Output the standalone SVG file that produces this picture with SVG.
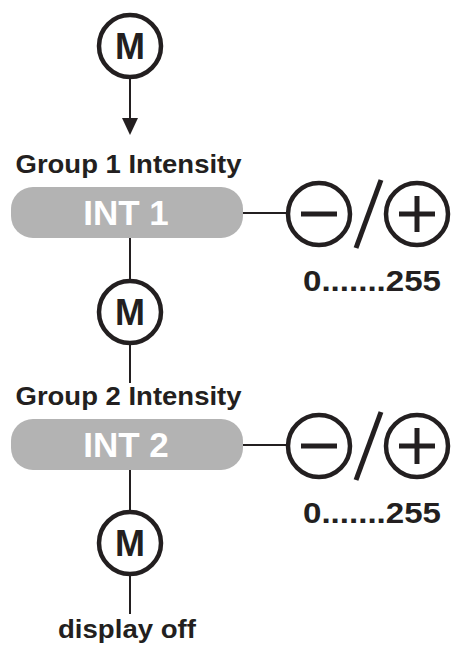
<svg xmlns="http://www.w3.org/2000/svg" width="453" height="645" viewBox="0 0 453 645">
<defs>
<style>
.c{fill:#fff;stroke:#231f20;stroke-width:4.5}
.m{font-family:"Liberation Sans",Arial,sans-serif;font-weight:bold;font-size:36px;fill:#231f20;text-anchor:middle}
.lbl{font-family:"Liberation Sans",Arial,sans-serif;font-weight:bold;font-size:26px;fill:#231f20;text-anchor:middle}
.num{font-family:"Liberation Sans",Arial,sans-serif;font-weight:bold;font-size:30px;fill:#231f20;text-anchor:middle}
.box{fill:#b3b3b3}
.bt{font-family:"Liberation Sans",Arial,sans-serif;font-weight:bold;font-size:35px;fill:#fff;text-anchor:middle}
.ln{stroke:#231f20;stroke-width:2;fill:none}
.sym{stroke:#231f20;stroke-width:5;fill:none}
</style>
</defs>
<g id="connectors">
<line class="ln" x1="130" y1="79" x2="130" y2="119"/>
<path d="M122,118 L138,118 L130,135 z" fill="#231f20"/>
<line class="ln" x1="242" y1="213" x2="287" y2="213"/>
<line class="ln" x1="130" y1="238" x2="130" y2="280"/>
<line class="ln" x1="130" y1="344" x2="130" y2="383"/>
<line class="ln" x1="242" y1="445" x2="287" y2="445"/>
<line class="ln" x1="130" y1="470" x2="130" y2="511"/>
<line class="ln" x1="130" y1="575" x2="130" y2="614"/>
</g>
<g id="m1">
<circle class="c" cx="130" cy="46" r="31"/>
<text class="m" x="130" y="59">M</text>
</g>
<g id="int1">
<text class="lbl" x="128.5" y="173" textLength="226" lengthAdjust="spacingAndGlyphs">Group 1 Intensity</text>
<rect class="box" x="11" y="187" width="232" height="51" rx="22"/>
<text class="bt" x="126" y="225">INT 1</text>
</g>
<g id="adj1">
<circle class="c" cx="319" cy="214" r="31"/>
<line class="sym" x1="301" y1="214" x2="337" y2="214"/>
<line class="sym" x1="381" y1="180" x2="356" y2="248"/>
<circle class="c" cx="417" cy="214" r="31"/>
<line class="sym" x1="399" y1="214" x2="435" y2="214"/>
<line class="sym" x1="417" y1="196" x2="417" y2="232"/>
<text class="num" x="372" y="291" textLength="138" lengthAdjust="spacingAndGlyphs">0.......255</text>
</g>
<g id="m2">
<circle class="c" cx="130" cy="312" r="31"/>
<text class="m" x="130" y="325">M</text>
</g>
<g id="int2">
<text class="lbl" x="128.5" y="405" textLength="226" lengthAdjust="spacingAndGlyphs">Group 2 Intensity</text>
<rect class="box" x="11" y="419" width="232" height="51" rx="22"/>
<text class="bt" x="126" y="457">INT 2</text>
</g>
<g id="adj2">
<circle class="c" cx="319" cy="446" r="31"/>
<line class="sym" x1="301" y1="446" x2="337" y2="446"/>
<line class="sym" x1="381" y1="412" x2="356" y2="480"/>
<circle class="c" cx="417" cy="446" r="31"/>
<line class="sym" x1="399" y1="446" x2="435" y2="446"/>
<line class="sym" x1="417" y1="428" x2="417" y2="464"/>
<text class="num" x="372" y="523" textLength="138" lengthAdjust="spacingAndGlyphs">0.......255</text>
</g>
<g id="m3">
<circle class="c" cx="130" cy="543" r="31"/>
<text class="m" x="130" y="556">M</text>
</g>
<g id="off">
<text class="lbl" x="127" y="638" textLength="138" lengthAdjust="spacingAndGlyphs">display off</text>
</g>
</svg>
